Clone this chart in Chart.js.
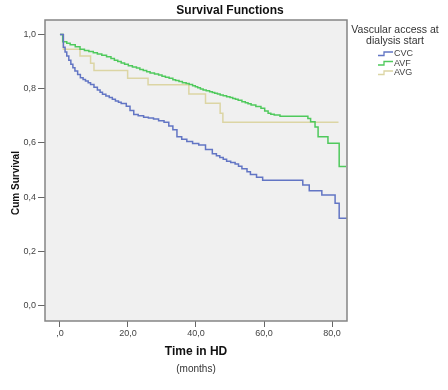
<!DOCTYPE html>
<html>
<head>
<meta charset="utf-8">
<script src="https://cdn.jsdelivr.net/npm/chart.js@4.4.1/dist/chart.umd.min.js"></script>
<style>
	body { margin: 0; background: #fff; }
</style>
</head>
<body>
<canvas id="myChart" width="448" height="390"></canvas>
<script>
// Kaplan-Meier step points (months, cum survival)
var cvcTime = [0, 1.0, 1.5, 2.0, 2.6, 3.2, 3.8, 4.4, 5.2, 6.0, 6.8, 7.5, 8.3, 9.0, 10.0, 11.0, 11.8, 12.5, 13.5, 14.5, 15.4, 16.3, 17.2, 18.0, 19.5, 20.6, 21.7, 23.0, 24.6, 26.0, 27.5, 29.0, 30.6, 32.0, 33.2, 34.4, 35.8, 37.3, 39.0, 40.8, 42.8, 44.8, 46.0, 47.0, 48.0, 49.0, 50.2, 51.5, 52.5, 53.5, 55.0, 56.0, 57.8, 59.6, 71.4, 73.3, 77.0, 80.9, 82.1, 84.3];
var cvcSurv = [1.0, 0.953, 0.935, 0.920, 0.905, 0.890, 0.877, 0.865, 0.852, 0.840, 0.834, 0.828, 0.822, 0.815, 0.805, 0.795, 0.787, 0.779, 0.773, 0.767, 0.761, 0.755, 0.750, 0.745, 0.735, 0.720, 0.705, 0.700, 0.695, 0.692, 0.688, 0.682, 0.676, 0.662, 0.649, 0.623, 0.614, 0.605, 0.598, 0.592, 0.576, 0.560, 0.553, 0.546, 0.540, 0.533, 0.528, 0.522, 0.514, 0.505, 0.494, 0.484, 0.474, 0.463, 0.445, 0.424, 0.408, 0.378, 0.323, 0.323];

var avfTime = [0, 0.8, 2.0, 3.0, 4.5, 5.9, 7.2, 8.5, 9.8, 11.0, 12.3, 13.7, 15.0, 16.0, 17.0, 18.0, 19.0, 20.1, 21.3, 22.5, 23.5, 24.5, 25.5, 26.5, 27.8, 29.0, 30.0, 31.0, 32.1, 33.2, 34.0, 35.0, 36.0, 37.1, 38.0, 39.0, 39.8, 40.5, 41.3, 42.1, 43.0, 44.0, 44.8, 45.5, 46.3, 47.1, 48.0, 49.0, 50.0, 50.8, 51.6, 52.4, 53.5, 54.5, 55.3, 56.2, 57.6, 59.1, 60.2, 61.2, 62.0, 63.0, 64.7, 72.9, 73.7, 75.0, 75.9, 78.8, 82.1, 84.1];
var avfSurv = [1.0, 0.973, 0.967, 0.962, 0.954, 0.945, 0.941, 0.937, 0.932, 0.928, 0.923, 0.918, 0.911, 0.905, 0.900, 0.895, 0.890, 0.884, 0.880, 0.876, 0.871, 0.867, 0.862, 0.858, 0.854, 0.850, 0.846, 0.842, 0.838, 0.833, 0.830, 0.826, 0.822, 0.819, 0.815, 0.811, 0.807, 0.803, 0.799, 0.795, 0.792, 0.789, 0.786, 0.783, 0.780, 0.777, 0.774, 0.770, 0.767, 0.764, 0.761, 0.757, 0.752, 0.748, 0.744, 0.740, 0.734, 0.728, 0.718, 0.709, 0.706, 0.703, 0.698, 0.690, 0.678, 0.659, 0.623, 0.599, 0.513, 0.513];

var avgTime = [0, 1.0, 5.9, 9.0, 10.0, 19.9, 25.9, 37.9, 42.8, 47.1, 47.9, 81.9];
var avgSurv = [1.0, 0.945, 0.920, 0.894, 0.867, 0.838, 0.814, 0.780, 0.746, 0.709, 0.676, 0.676];

var groupNames = ['CVC', 'AVF', 'AVG'];
var groupColors = ['#6275c4', '#4fc95c', '#dcd5a4'];

var xTicks = [0, 20, 40, 60, 80];
var xTickLabels = [',0', '20,0', '40,0', '60,0', '80,0'];
var yTicks = [0, 0.2, 0.4, 0.6, 0.8, 1.0];
var yTickLabels = ['0,0', '0,2', '0,4', '0,6', '0,8', '1,0'];

var FONT = "'Liberation Sans', Arial, sans-serif";

function _toPoints(times, surv) {
	var pts = new Array();
	times.forEach(function(t, i) {
		pts.push({ x: t, y: surv[i] });
	});
	return pts;
}

var _datasets = [
	{ label: groupNames[0], data: _toPoints(cvcTime, cvcSurv) },
	{ label: groupNames[1], data: _toPoints(avfTime, avfSurv) },
	{ label: groupNames[2], data: _toPoints(avgTime, avgSurv) }
].map(function(ds, i) {
	ds.borderColor = groupColors[i];
	ds.borderWidth = 1.5;
	ds.pointRadius = 0;
	ds.stepped = true;
	ds.fill = false;
	return ds;
});

var framePlugin = {
	id: 'frame',
	beforeDatasetsDraw: function(chart) {
		var ctx = chart.ctx, a = chart.chartArea;
		ctx.save();
		ctx.fillStyle = '#f0f0f0';
		ctx.fillRect(a.left, a.top, a.right - a.left, a.bottom - a.top);
		ctx.restore();
	},
	afterDraw: function(chart) {
		var ctx = chart.ctx, a = chart.chartArea;
		ctx.save();
		ctx.strokeStyle = '#858585';
		ctx.lineWidth = 1.5;
		ctx.strokeRect(a.left, a.top, a.right - a.left, a.bottom - a.top);

		ctx.fillStyle = '#111';
		ctx.textAlign = 'center';
		ctx.textBaseline = 'middle';
		ctx.font = 'bold 12px ' + FONT;
		ctx.fillText('Survival Functions', 230, 11);

		ctx.font = 'bold 12px ' + FONT;
		ctx.fillText('Time in HD', 196, 352);
		ctx.fillStyle = '#333';
		ctx.font = '10px ' + FONT;
		ctx.fillText('(months)', 196, 369);

		ctx.save();
		ctx.translate(16, 183);
		ctx.rotate(-Math.PI / 2);
		ctx.fillStyle = '#111';
		ctx.font = 'bold 10px ' + FONT;
		ctx.fillText('Cum Survival', 0, 0);
		ctx.restore();

		// legend
		ctx.fillStyle = '#333';
		ctx.font = '10.5px ' + FONT;
		ctx.fillText('Vascular access at', 395, 30);
		ctx.fillText('dialysis start', 395, 41);

		ctx.font = '9px ' + FONT;
		ctx.textAlign = 'left';
		groupNames.forEach(function(name, i) {
			var y = 54 + i * 9.5;
			ctx.strokeStyle = groupColors[i];
			ctx.lineWidth = 1.3;
			ctx.beginPath();
			ctx.moveTo(378, y + 1.5);
			ctx.lineTo(384, y + 1.5);
			ctx.lineTo(384, y - 2);
			ctx.lineTo(393, y - 2);
			ctx.stroke();
			ctx.fillStyle = '#444';
			ctx.fillText(name, 394, y);
		});
		ctx.restore();
	}
};

var _config = {
	type: 'line',
	data: { datasets: _datasets },
	options: {
		responsive: false,
		animation: false,
		layout: {
			padding: { left: 0, right: 101, top: 20, bottom: 0 }
		},
		plugins: {
			legend: { display: false },
			tooltip: { enabled: false }
		},
		scales: {
			x: {
				type: 'linear',
				min: -4.4,
				max: 84.4,
				afterFit: function(scale) { scale.height = 69; },
				afterBuildTicks: function(scale) {
					scale.ticks = xTicks.map(function(v) { return { value: v }; });
				},
				border: { display: false },
				grid: { drawOnChartArea: false, drawTicks: true, tickLength: 6, color: '#666', lineWidth: 1 },
				ticks: {
					padding: 1,
					color: '#444',
					font: { family: FONT, size: 9 },
					callback: function(value) {
						return xTickLabels[xTicks.indexOf(value)];
					}
				}
			},
			y: {
				type: 'linear',
				min: -0.056,
				max: 1.053,
				afterFit: function(scale) { scale.width = 45; },
				afterBuildTicks: function(scale) {
					scale.ticks = yTicks.map(function(v) { return { value: v }; });
				},
				border: { display: false },
				grid: { drawOnChartArea: false, drawTicks: true, tickLength: 7, color: '#666', lineWidth: 1 },
				ticks: {
					padding: 2,
					color: '#444',
					font: { family: FONT, size: 9 },
					callback: function(value) {
						var idx = yTicks.findIndex(function(v) { return Math.abs(v - value) < 1e-6; });
						return yTickLabels[idx];
					}
				}
			}
		}
	},
	plugins: [framePlugin]
};

var myChart = new Chart(document.getElementById('myChart'), _config);
</script>
</body>
</html>
